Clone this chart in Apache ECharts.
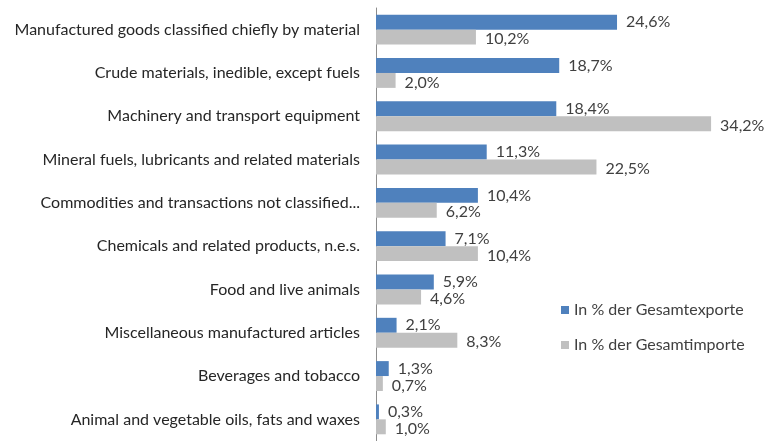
<!DOCTYPE html>
<html>
<head>
<meta charset="utf-8">
<script src="https://cdn.jsdelivr.net/npm/echarts@6/dist/echarts.min.js"></script>
<style>
  html, body { margin: 0; padding: 0; background: #fff; }
  #chart { width: 764px; height: 441px; }
</style>
</head>
<body>
<div id="chart"></div>
<script>
// categories, top to bottom
var categories = [
  'Manufactured goods classified chiefly by material',
  'Crude materials, inedible, except fuels',
  'Machinery and transport equipment',
  'Mineral fuels, lubricants and related materials',
  'Commodities and transactions not classified...',
  'Chemicals and related products, n.e.s.',
  'Food and live animals',
  'Miscellaneous manufactured articles',
  'Beverages and tobacco',
  'Animal and vegetable oils, fats and waxes'
]
var exportShare = [24.6, 18.7, 18.4, 11.3, 10.4, 7.1, 5.9, 2.1, 1.3, 0.3]
var importShare = [10.2, 2.0, 34.2, 22.5, 6.2, 10.4, 4.6, 8.3, 0.7, 1.0]

var FONT = 'Lato'

function pct(p) {
  return p.value.toFixed(1).replace('.', ',') + '%'
}

var myChart = echarts.init(document.getElementById('chart'))
var option = {
  animation: false,
  textStyle: { fontFamily: FONT },
  legend: {
    orient: 'vertical',
    left: 556,
    top: 297,
    itemWidth: 8,
    itemHeight: 8,
    itemGap: 19,
    icon: 'rect',
    textStyle: { fontFamily: FONT, fontSize: 16, color: '#404040' },
    data: ['In % der Gesamtexporte', 'In % der Gesamtimporte']
  },
  grid: { left: 376, right: 0, top: 8, bottom: -2, containLabel: false },
  xAxis: {
    type: 'value',
    min: 0,
    max: 39.6,
    show: false
  },
  yAxis: {
    type: 'category',
    inverse: true,
    data: categories,
    axisLine: { show: true, lineStyle: { color: '#8c8c8c', width: 1 } },
    axisTick: { show: false },
    axisLabel: {
      fontFamily: FONT,
      fontSize: 16,
      color: '#262626',
      margin: 16
    }
  },
  series: [
    {
      name: 'In % der Gesamtexporte',
      type: 'bar',
      data: exportShare,
      barGap: '0%',
      barCategoryGap: '31%',
      itemStyle: { color: '#4f81bd' },
      label: {
        show: true,
        position: 'right',
        distance: 9,
        formatter: pct,
        fontFamily: FONT,
        fontSize: 16,
        color: '#404040'
      }
    },
    {
      name: 'In % der Gesamtimporte',
      type: 'bar',
      data: importShare,
      itemStyle: { color: '#c0c0c0' },
      label: {
        show: true,
        position: 'right',
        distance: 9,
        offset: [0, 2],
        formatter: pct,
        fontFamily: FONT,
        fontSize: 16,
        color: '#404040'
      }
    }
  ]
}
myChart.setOption(option)
</script>
</body>
</html>
